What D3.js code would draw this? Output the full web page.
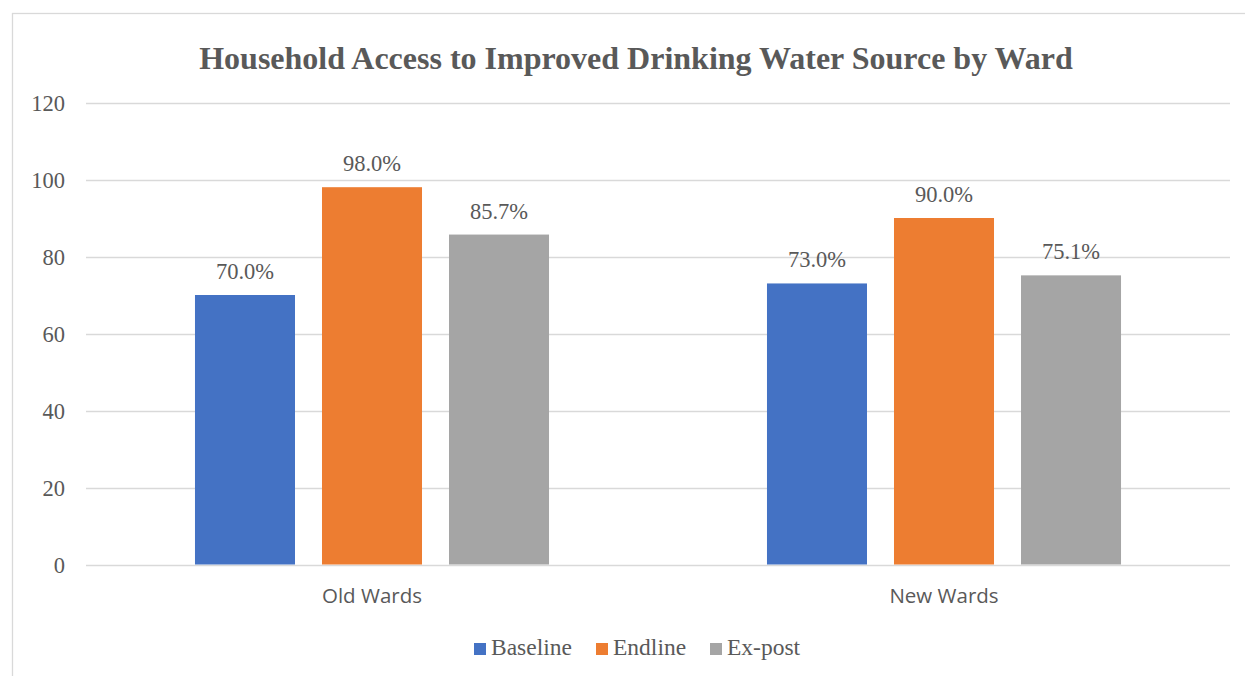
<!DOCTYPE html>
<html>
<head>
<meta charset="utf-8">
<script src="https://cdn.jsdelivr.net/npm/d3@7"></script>
<style>
  html, body { margin: 0; padding: 0; background: #fff; }
  svg { display: block; }
</style>
</head>
<body>
<svg id="chart" width="1245" height="676"></svg>
<script>
// Household access to an improved drinking water source, by ward group and survey round
const categories = ["Old Wards", "New Wards"];
const series = ["Baseline", "Endline", "Ex-post"];
const baseline = [70.0, 73.0];
const endline = [98.0, 90.0];
const expost = [85.7, 75.1];
const yTicks = [0, 20, 40, 60, 80, 100, 120];
const colors = ["#4472C4", "#ED7D31", "#A5A5A5"];
const title = "Household Access to Improved Drinking Water Source by Ward";

const values = [baseline, endline, expost];
const rows = categories.map((c, i) => ({
  category: c,
  items: series.map((s, j) => ({ series: s, value: values[j][i] }))
}));

const svg = d3.select("#chart");
const textColor = "#595959";
const gridColor = "#D9D9D9";
const serif = "'Liberation Serif', 'Times New Roman', serif";

// outer frame of the chart area
svg.append("rect")
  .attr("x", 12.5).attr("y", 13.5)
  .attr("width", 1260).attr("height", 700)
  .attr("fill", "none").attr("stroke", gridColor).attr("stroke-width", 1.3);

const plot = { left: 86, right: 1230, top: 102.5, bottom: 564.5 };

const y = d3.scaleLinear().domain([0, 120]).range([plot.bottom, plot.top]);
const x0 = d3.scaleBand().domain(categories).range([plot.left, plot.right]).padding(0);
const x1 = d3.scaleBand().domain(series).range([0, x0.bandwidth()])
  .paddingInner(27 / 127).paddingOuter(0.858);
const color = d3.scaleOrdinal().domain(series).range(colors);

// gridlines
svg.append("g").selectAll("line")
  .data(yTicks)
  .join("line")
  .attr("x1", plot.left).attr("x2", plot.right)
  .attr("y1", d => Math.round(y(d)) + 0.5).attr("y2", d => Math.round(y(d)) + 0.5)
  .attr("stroke", gridColor).attr("stroke-width", 1.3);

// y axis labels
const yAxis = d3.axisLeft(y).tickValues(yTicks).tickSize(0).tickPadding(0);
const yg = svg.append("g").attr("transform", "translate(65,0)").call(yAxis);
yg.select(".domain").remove();
yg.selectAll("text")
  .attr("font-family", serif).attr("font-size", 22.5)
  .attr("fill", textColor).attr("dy", "0.34em");

// bars
const groups = svg.append("g").selectAll("g")
  .data(rows)
  .join("g")
  .attr("transform", d => `translate(${x0(d.category)},0)`);

groups.selectAll("rect")
  .data(d => d.items)
  .join("rect")
  .attr("x", d => x1(d.series))
  .attr("width", x1.bandwidth())
  .attr("y", d => y(d.value))
  .attr("height", d => y(0) - y(d.value))
  .attr("fill", d => color(d.series));

// value labels
groups.selectAll("text")
  .data(d => d.items)
  .join("text")
  .attr("x", d => x1(d.series) + x1.bandwidth() / 2)
  .attr("y", d => y(d.value) - 16)
  .attr("text-anchor", "middle")
  .attr("font-family", serif).attr("font-size", 22.5)
  .attr("fill", textColor)
  .text(d => d3.format(".1f")(d.value) + "%");

// category axis labels
const xAxis = d3.axisBottom(x0).tickSize(0).tickPadding(0);
const xg = svg.append("g").attr("transform", `translate(0,${plot.bottom})`).call(xAxis);
xg.select(".domain").remove();
xg.selectAll("text")
  .attr("font-family", "'Open Sans', 'Liberation Sans', sans-serif")
  .attr("font-size", 20.5).attr("fill", textColor)
  .attr("dy", 0).attr("y", 38);

// title
svg.append("text")
  .attr("x", 636).attr("y", 69)
  .attr("text-anchor", "middle")
  .attr("font-family", serif).attr("font-weight", "bold").attr("font-size", 32)
  .attr("fill", textColor)
  .text(title);

// legend
const legendItems = [
  { s: "Baseline", x: 474 },
  { s: "Endline", x: 596 },
  { s: "Ex-post", x: 710 }
];
const lg = svg.append("g").selectAll("g")
  .data(legendItems)
  .join("g")
  .attr("transform", d => `translate(${d.x},643)`);
lg.append("rect").attr("width", 12).attr("height", 12).attr("fill", d => color(d.s));
lg.append("text")
  .attr("x", 17).attr("y", 12)
  .attr("font-family", serif).attr("font-size", 23.5)
  .attr("fill", textColor)
  .text(d => d.s);
</script>
</body>
</html>
